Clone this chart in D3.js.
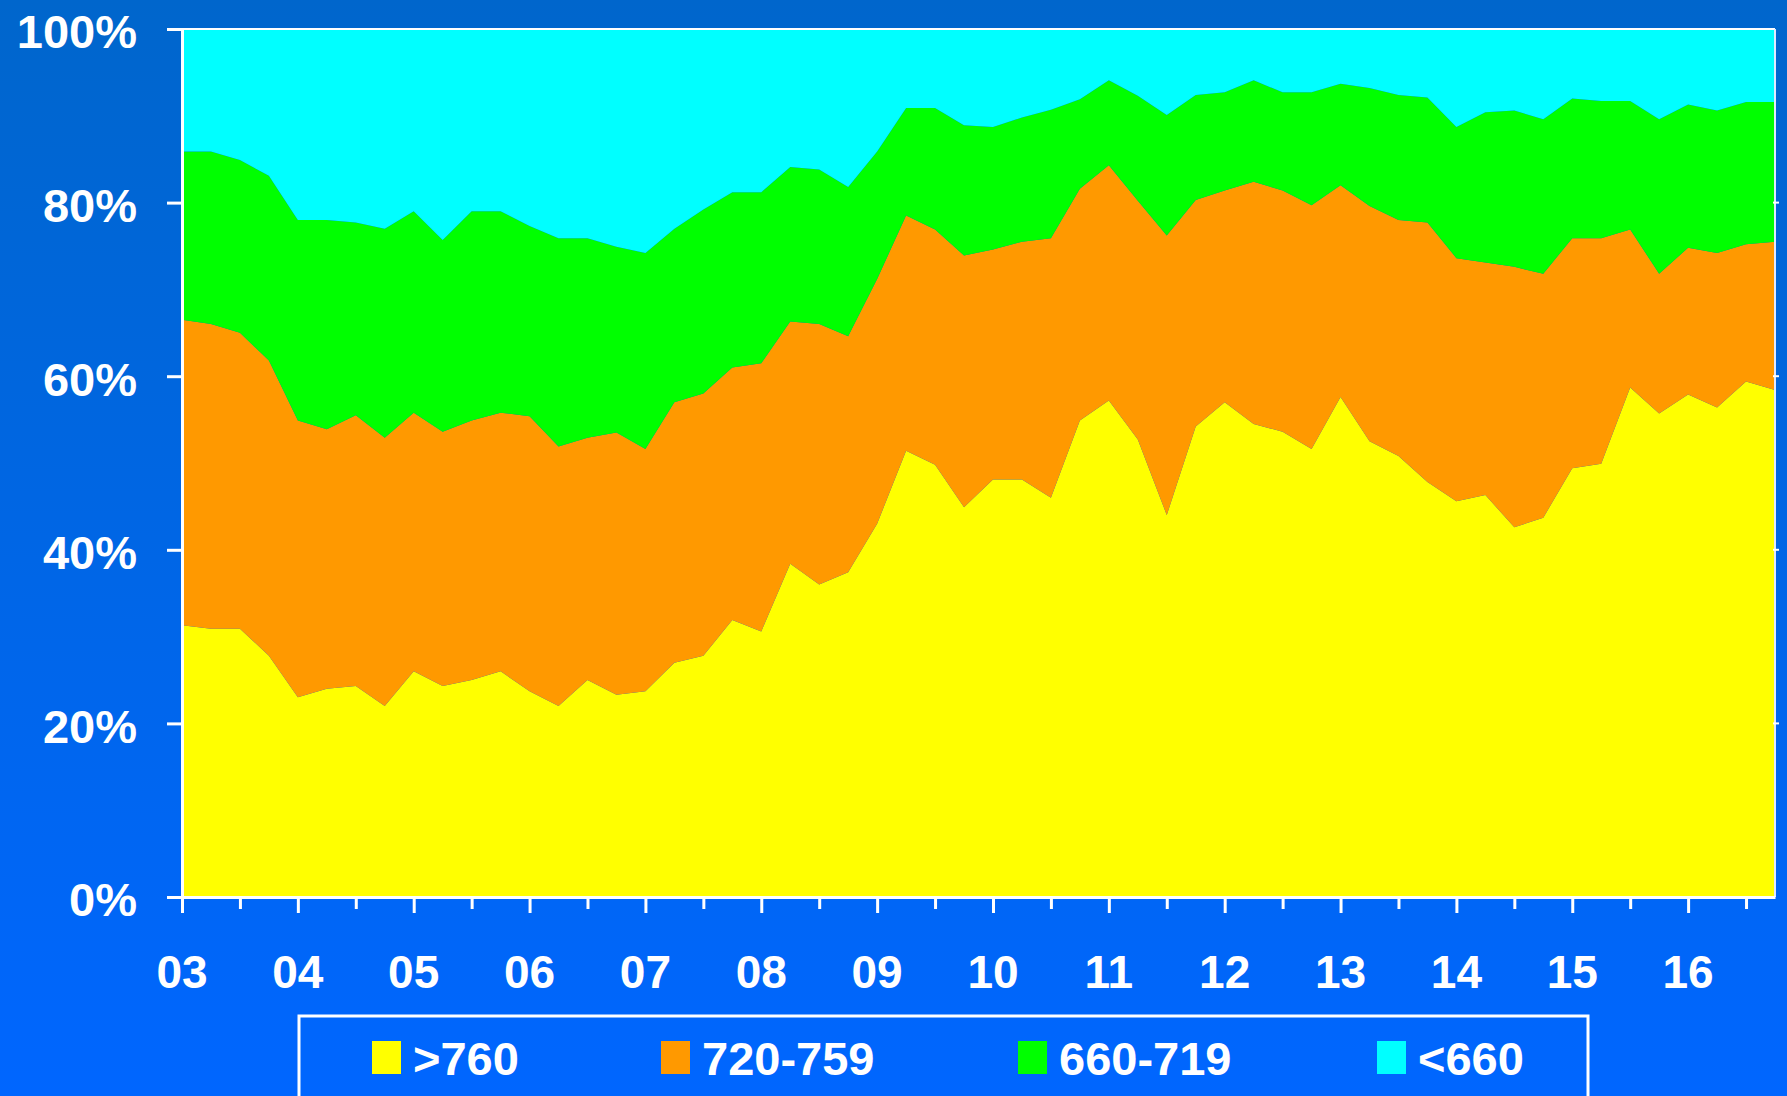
<!DOCTYPE html>
<meta charset="utf-8">
<head>
<script src="https://d3js.org/d3.v7.min.js"></script>
<style>
  html, body { margin: 0; padding: 0; overflow: hidden; }
  text { font-family: "Liberation Sans", Arial, sans-serif; font-weight: bold; fill: #fff; }
</style>
</head>

<body>
<div id="chart"></div>

<script>

var width = 1787,
    height = 1096;

// quarterly, 2003 Q1 .. 2016 Q4
var yearLabels = ["03","04","05","06","07","08","09","10","11","12","13","14","15","16"];
var keys = [">760", "720-759", "660-719", "<660"];
var colors = ["#ffff00", "#ff9900", "#00ff00", "#00ffff"];

var gt760 = [31.3,30.9,30.9,27.8,23.0,24.0,24.3,22.0,26.0,24.3,25.0,26.0,23.7,22.0,
  25.0,23.3,23.7,27.0,27.8,31.9,30.6,38.4,36.0,37.4,43.0,51.4,49.8,44.9,
  48.1,48.1,46.0,54.9,57.2,52.7,44.0,54.2,57.0,54.5,53.6,51.6,57.6,52.5,
  50.8,47.8,45.6,46.3,42.6,43.7,49.4,49.9,58.7,55.7,57.9,56.4,59.4,58.4];
var s720_759 = [35.2,35.1,34.1,34.0,31.9,29.9,31.2,30.9,29.8,29.3,29.9,29.8,31.7,29.9,
  27.9,30.2,27.9,30.0,30.2,29.1,30.9,27.9,30.0,27.2,28.2,27.1,27.1,29.0,
  26.5,27.4,29.9,26.7,27.1,27.5,32.2,26.1,24.4,27.9,27.8,28.1,24.4,27.1,
  27.2,29.9,28.0,26.8,30.0,28.1,26.5,26.0,18.2,16.1,16.9,17.8,15.8,17.1];
var s660_719 = [19.4,19.9,19.9,21.3,23.1,24.1,22.2,24.1,23.2,22.1,24.1,23.2,21.9,24.0,
  23.0,21.4,22.6,20.0,21.2,20.2,19.7,17.8,17.8,17.2,14.7,12.4,14.0,15.0,
  14.1,14.3,14.8,10.3,9.8,12.1,13.9,12.1,11.3,11.7,11.3,13.0,11.7,13.6,
  14.4,14.4,15.1,17.3,18.0,17.8,16.1,15.8,14.8,17.8,16.5,16.4,16.4,16.1];
var lt660 = [14.1,14.1,15.1,16.9,22.0,22.0,22.3,23.0,21.0,24.3,21.0,21.0,22.7,24.1,
  24.1,25.1,25.8,23.0,20.8,18.8,18.8,15.9,16.2,18.2,14.1,9.1,9.1,11.1,
  11.3,10.2,9.3,8.1,5.9,7.7,9.9,7.6,7.3,5.9,7.3,7.3,6.3,6.8,
  7.6,7.9,11.3,9.6,9.4,10.4,8.0,8.3,8.3,10.4,8.7,9.4,8.4,8.4];

var rows = gt760.map(function(v, i) {
  var r = { q: i };
  r[keys[0]] = v;
  r[keys[1]] = s720_759[i];
  r[keys[2]] = s660_719[i];
  r[keys[3]] = lt660[i];
  return r;
});

var plotLeft = 182, plotRight = 1775, plotTop = 29, plotBottom = 897;

var svg = d3.select("#chart").append("svg")
  .attr("width", width)
  .attr("height", height);

var grad = svg.append("defs").append("linearGradient")
  .attr("id", "bg")
  .attr("x1", 0).attr("y1", 0).attr("x2", 0).attr("y2", 1);
grad.append("stop").attr("offset", "0%").attr("stop-color", "#0066cc");
grad.append("stop").attr("offset", "100%").attr("stop-color", "#0066ff");

svg.append("rect")
  .attr("width", width)
  .attr("height", height)
  .attr("fill", "url(#bg)");

var x = d3.scaleLinear().domain([0, rows.length - 1]).range([plotLeft, plotRight]);
var y = d3.scaleLinear().domain([0, 1]).range([plotBottom, plotTop]);

var stack = d3.stack().keys(keys).offset(d3.stackOffsetExpand);
var series = stack(rows);

var area = d3.area()
  .x(function(d) { return x(d.data.q); })
  .y0(function(d) { return y(d[0]); })
  .y1(function(d) { return y(d[1]); });

svg.append("g")
  .selectAll("path")
  .data(series)
  .enter().append("path")
  .attr("d", area)
  .attr("fill", function(d, i) { return colors[i]; });

// frame
svg.append("line")
  .attr("x1", plotLeft).attr("x2", plotRight).attr("y1", plotTop).attr("y2", plotTop)
  .attr("stroke", "#fff").attr("stroke-width", 2);
svg.append("line")
  .attr("x1", plotRight).attr("x2", plotRight).attr("y1", plotTop).attr("y2", plotBottom)
  .attr("stroke", "#dfe8ff").attr("stroke-width", 2);

// y axis
var yAxis = d3.axisLeft(y)
  .tickValues([0, 0.2, 0.4, 0.6, 0.8, 1])
  .tickFormat(d3.format(".0%"))
  .tickSize(15)
  .tickPadding(30);

var gy = svg.append("g")
  .attr("transform", "translate(" + plotLeft + ",0)")
  .call(yAxis);
gy.select(".domain").attr("stroke", "#fff").attr("stroke-width", 3);
gy.selectAll(".tick line").attr("stroke", "#fff").attr("stroke-width", 3);
gy.selectAll(".tick text")
  .attr("font-size", 47)
  .attr("dy", "0.4em")
  .attr("fill", "#fff")
  .style("font-family", "'Liberation Sans', Arial, sans-serif")
  .style("font-weight", "bold");

// small marks on the right edge
svg.append("g")
  .selectAll("line")
  .data([0.2, 0.4, 0.6, 0.8])
  .enter().append("line")
  .attr("x1", plotRight - 2).attr("x2", plotRight + 4)
  .attr("y1", function(d) { return y(d); })
  .attr("y2", function(d) { return y(d); })
  .attr("stroke", "#fff").attr("stroke-width", 2);

// x axis, ticks every half year
var halfYears = d3.range(0, rows.length - 1, 2);
var xAxis = d3.axisBottom(x)
  .tickValues(halfYears)
  .tickFormat("")
  .tickSizeOuter(0);

var gx = svg.append("g")
  .attr("transform", "translate(0," + plotBottom + ")")
  .call(xAxis);
gx.select(".domain").attr("stroke", "#fff").attr("stroke-width", 3);
gx.selectAll(".tick line")
  .attr("stroke", "#fff")
  .attr("stroke-width", 3)
  .attr("y2", function(d) { return d % 4 == 0 ? 16 : 12; });

svg.append("g")
  .selectAll("text")
  .data(yearLabels)
  .enter().append("text")
  .attr("x", function(d, i) { return x(i * 4); })
  .attr("y", 988)
  .attr("text-anchor", "middle")
  .attr("font-size", 46)
  .text(function(d) { return d; });

// legend
svg.append("rect")
  .attr("x", 299).attr("y", 1016)
  .attr("width", 1289).attr("height", 100)
  .attr("fill", "none")
  .attr("stroke", "#fff")
  .attr("stroke-width", 3);

var legendX = [372, 661, 1018, 1377];

var item = svg.append("g")
  .selectAll("g")
  .data(keys)
  .enter().append("g")
  .attr("transform", function(d, i) { return "translate(" + legendX[i] + ",0)"; });

item.append("rect")
  .attr("x", 0).attr("y", 1041)
  .attr("width", 29).attr("height", 33)
  .attr("fill", function(d, i) { return colors[i]; });

item.append("text")
  .attr("x", 41)
  .attr("y", 1075)
  .attr("font-size", 47)
  .text(function(d) { return d; });

</script>
</body>
